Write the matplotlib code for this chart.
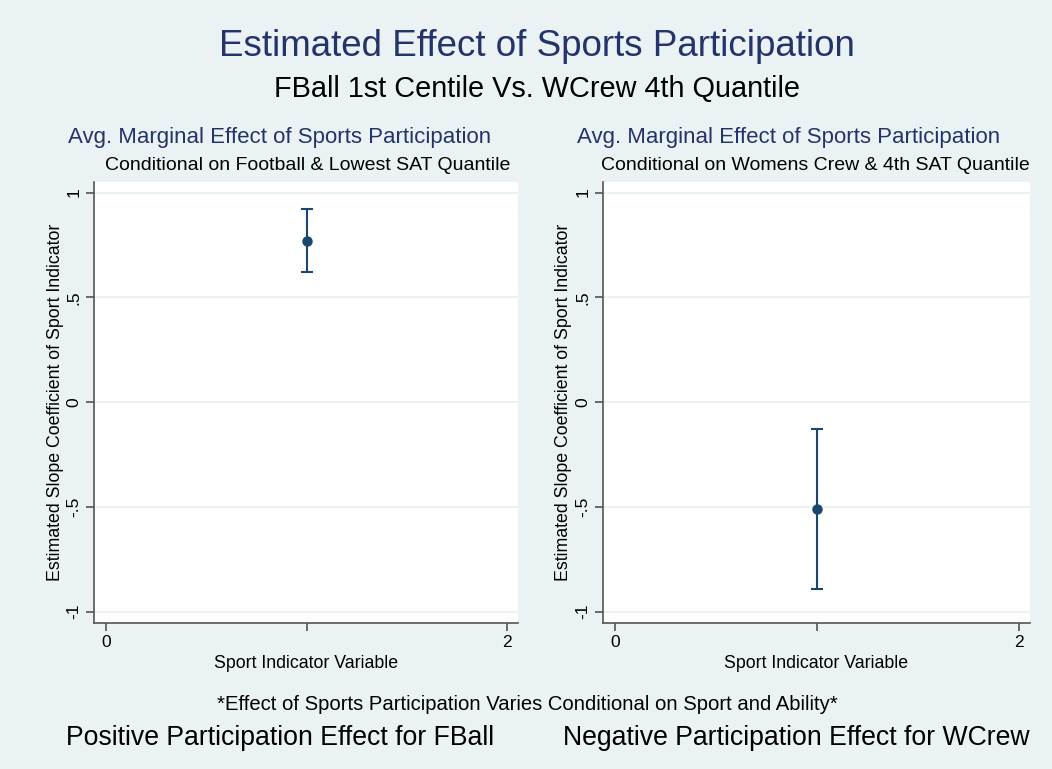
import matplotlib.pyplot as plt

plt.rcParams['font.family'] = ['Liberation Sans', 'DejaVu Sans']

# Marginal effects of sport participation (point estimate and 95% CI)
panels = ["FBall Q1", "WCrew Q4"]
sport_x = [1, 1]
estimate = [0.768, -0.509]
ci_low = [0.622, -0.891]
ci_high = [0.920, -0.127]

panel_titles = ["Avg. Marginal Effect of Sports Participation",
                "Avg. Marginal Effect of Sports Participation"]
panel_subtitles = ["Conditional on Football & Lowest SAT Quantile",
                   "Conditional on Womens Crew & 4th SAT Quantile"]
yticks = [-1, -0.5, 0, 0.5, 1]
ytick_labels = ["-1", "-.5", "0", ".5", "1"]
xticks = [0, 1, 2]
xtick_labels = ["0", "", "2"]

bg = "#eaf2f3"
navy = "#1a476f"
title_col = "#24346a"

fig = plt.figure(figsize=(10.52, 7.69), dpi=100, facecolor=bg)

axes_pos = [[0.0894, 0.1899, 0.4030, 0.5734],
            [0.5729, 0.1899, 0.4062, 0.5734]]
title_cx = [279.5 / 1052, 789 / 1052]
sub_cx = [307.5 / 1052, 815 / 1052]

for i, pos in enumerate(axes_pos):
    ax = fig.add_axes(pos)
    ax.set_facecolor("white")
    lo = estimate[i] - ci_low[i]
    hi = ci_high[i] - estimate[i]
    ax.errorbar([sport_x[i]], [estimate[i]], yerr=[[lo], [hi]], fmt="o",
                color=navy, ms=6.5, elinewidth=1.5, capsize=4, capthick=1.5,
                zorder=3)
    ax.set_xlim(-0.06, 2.055)
    ax.set_ylim(-1.054, 1.05)
    ax.set_yticks(yticks)
    ax.set_yticklabels(ytick_labels, rotation=90, va="center")
    ax.set_xticks(xticks)
    ax.set_xticklabels(xtick_labels)
    ax.grid(axis="y", color=bg, linewidth=1.5)
    ax.set_axisbelow(True)
    for s in ["top", "right"]:
        ax.spines[s].set_visible(False)
    for s in ["left", "bottom"]:
        ax.spines[s].set_color("#555555")
        ax.spines[s].set_linewidth(1.2)
    ax.tick_params(axis="both", length=6, width=1.2, color="#555555",
                   labelsize=12.5, pad=3)
    ax.set_ylabel("Estimated Slope Coefficient of Sport Indicator",
                  fontsize=12.8, labelpad=2)
    ax.set_xlabel("Sport Indicator Variable", fontsize=12.8, labelpad=3)

    fig.text(title_cx[i], 1 - 137 / 769, panel_titles[i], ha="center",
             va="center", fontsize=16, color=title_col)
    fig.text(sub_cx[i], 1 - 166 / 769, panel_subtitles[i], ha="center",
             va="center", fontsize=14, color="black")

fig.text(537 / 1052, 1 - 46 / 769, "Estimated Effect of Sports Participation",
         ha="center", va="center", fontsize=26.5, color=title_col)
fig.text(537 / 1052, 1 - 89 / 769, "FBall 1st Centile Vs. WCrew 4th Quantile",
         ha="center", va="center", fontsize=20.8, color="black")
fig.text(527 / 1052, 1 - 705 / 769,
         "*Effect of Sports Participation Varies Conditional on Sport and Ability*",
         ha="center", va="center", fontsize=14.6, color="black")
fig.text(66 / 1052, 1 - 738 / 769, "Positive Participation Effect for FBall",
         ha="left", va="center", fontsize=19.2, color="black")
fig.text(1030 / 1052, 1 - 738 / 769, "Negative Participation Effect for WCrew",
         ha="right", va="center", fontsize=19.2, color="black")

fig.savefig("out.png", dpi=100, facecolor=bg)
